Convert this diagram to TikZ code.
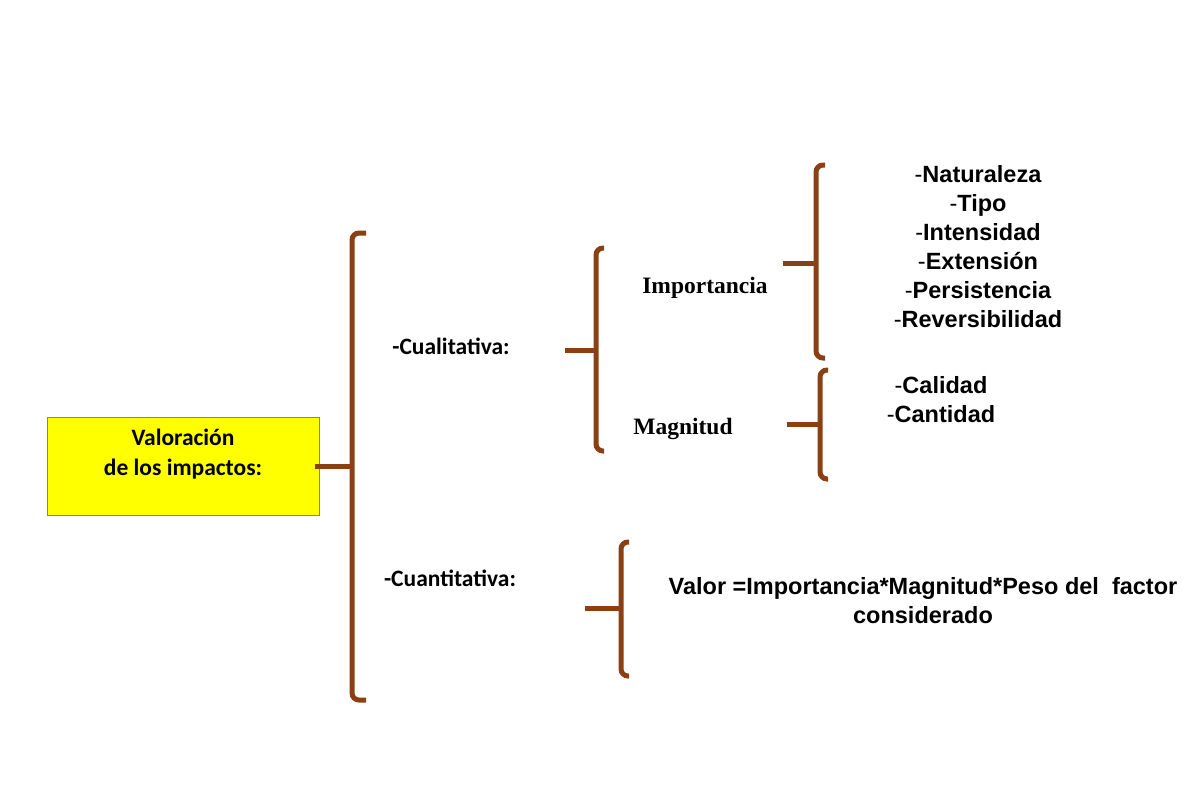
\documentclass[tikz,border=0pt]{standalone}
\usepackage{fontspec}
\setmainfont{Liberation Sans}
\newfontfamily\calibri{Carlito}
\newfontfamily\romana{Liberation Serif}
\usetikzlibrary{positioning}
\definecolor{marron}{RGB}{139,64,20}
\definecolor{amarillo}{RGB}{255,255,0}
\definecolor{borde}{RGB}{140,135,90}
\newcommand{\guion}{{\mdseries-}}

\begin{document}
\begin{tikzpicture}[x=1pt, y=-1pt,
		caja/.style={rectangle, draw=borde, line width=0.8pt, fill=amarillo, minimum width=272pt, minimum height=98pt, inner sep=0pt},
		cal/.style={font=\calibri\bfseries\fontsize{23.5}{30}\selectfont, align=center, inner sep=0pt},
		rom/.style={font=\romana\bfseries\fontsize{23.5}{29}\selectfont, inner sep=0pt},
		lista/.style={font=\bfseries\fontsize{23.5}{29}\selectfont, align=center, inner sep=0pt},
		llave/.style={draw=marron, line width=5pt, rounded corners=7pt}]
		\useasboundingbox (0,0) rectangle (1200,800);

		\node [caja] (valor) at (183,466) {};
		\node [cal, below=12pt of valor.north] (titulo) {Valoración\\de los impactos:};
		\node [cal] (cuali) at (451,346) {-Cualitativa:};
		\node [cal] (cuanti) at (450,578) {-Cuantitativa:};
		\node [rom] (imp) at (705,288) {Importancia};
		\node [rom] (mag) at (683,429) {Magnitud};
		\node [lista] (impitems) at (978,247) {\guion Naturaleza\\\guion Tipo\\\guion Intensidad\\\guion Extensión\\\guion Persistencia\\\guion Reversibilidad};
		\node [lista] (magitems) at (941,400) {\guion Calidad\\\guion Cantidad};
		\node [lista] (formula) at (923,601) {Valor =Importancia*Magnitud*Peso del~ factor\\considerado};

		\coordinate (b1) at (352,466);
		\coordinate (b2) at (596,350);
		\coordinate (b3) at (816,263);
		\coordinate (b4) at (820,424);
		\coordinate (b5) at (621,608);

		\draw [llave] (366,233) -- (352,233) -- (352,700) -- (366,700);
		\draw [llave] (604,248) -- (596,248) -- (596,451) -- (604,451);
		\draw [llave] (825,165) -- (816,165) -- (816,358) -- (825,358);
		\draw [llave] (828,370) -- (820,370) -- (820,479) -- (828,479);
		\draw [llave] (629,542) -- (621,542) -- (621,676) -- (629,676);

		\draw [llave] ([xshift=-4pt]valor.east) -- (b1);
		\draw [llave] (b2) -- ++(-31,0);
		\draw [llave] (b3) -- ++(-33,0);
		\draw [llave] (b4) -- ++(-33,0);
		\draw [llave] (b5) -- ++(-36,0);
	\end{tikzpicture}
\end{document}
